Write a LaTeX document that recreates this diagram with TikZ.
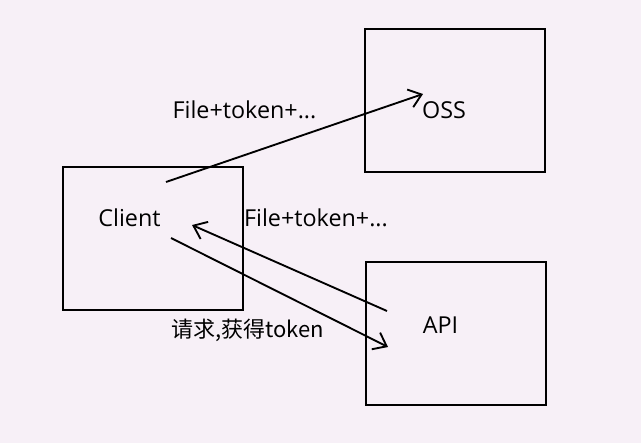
\documentclass[tikz,border=0pt]{standalone}
\usepackage{fontspec}
\setmainfont{Open Sans}
\newfontfamily\cjk{Noto Sans CJK SC}
\usetikzlibrary{arrows.meta}
\definecolor{bgpink}{RGB}{247,240,247}
\tikzset{
	box/.style = {draw,line width=1.4pt,minimum width=135pt,minimum height=107pt,inner sep=0pt},
	txt/.style = {inner sep=0pt,font=\fontsize{17.5}{19}\selectfont},
	arr/.style = {line width=1.4pt,-{Straight Barb[length=9pt,width=14pt,line width=1.4pt]}}
}
\begin{document}
\begin{tikzpicture}[x=.75pt,y=-.75pt]
			\fill[bgpink] (0,0) rectangle (641,443);
			\useasboundingbox (0,0) rectangle (641,443);
			\node[box] (oss) at (455,100.5){};
			\node[box] (client) at (153,238.5){};
			\node[box] (api) at (456,333.5){};
			\node[txt] (osstxt) at (444,110){OSS};
			\node[txt] (clienttxt) at (129.5,218){Client};
			\node[txt] (apitxt) at (440.5,325.5){API};
			\node[txt] (upload) at (244.5,110){File+token+...};
			\node[txt] (reply) at (316,218){File+token+...};
			\node[txt,font=\fontsize{16.5}{18}\selectfont] (request) at (247.5,330){\cjk 请求,获得token};
			\coordinate (c1) at (166,182);
			\coordinate (o1) at (423,94);
			\coordinate (a1) at (387,311);
			\coordinate (c2) at (192,225);
			\coordinate (c3) at (171,238);
			\coordinate (a2) at (388,347);
			\draw[arr] (c1)--(o1);
			\draw[arr] (a1)--(c2);
			\draw[arr] (c3)--(a2);
		    \end{tikzpicture}
\end{document}
